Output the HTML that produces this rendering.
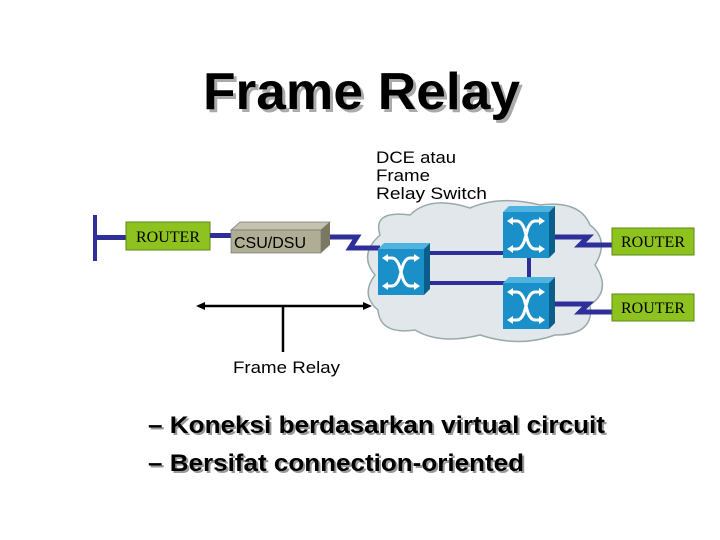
<!DOCTYPE html>
<html><head><meta charset="utf-8"><style>
body{margin:0;background:#fff;}
svg{display:block;font-family:"Liberation Sans",sans-serif;}
</style></head><body>
<svg width="720" height="540" viewBox="0 0 720 540">
<defs>
<g id="sw">
<polygon points="0,6 6,0 52,0 46,6" fill="#4fb3e0"/>
<polygon points="46,6 52,0 52,46 46,52" fill="#0a5f8a"/>
<rect x="0" y="6" width="46" height="46" fill="#1b8fc8"/>
<g stroke="#fff" stroke-width="3" fill="none">
<path d="M8,15 H14 Q18,15 21,22 L25,36 Q28,43 32,43 H38"/>
<path d="M8,43 H14 Q18,43 21,36 L25,22 Q28,15 32,15 H38"/>
</g>
<g fill="#fff">
<polygon points="4,15 10,11 10,19"/><polygon points="42,15 36,11 36,19"/>
<polygon points="4,43 10,39 10,47"/><polygon points="42,43 36,39 36,47"/>
</g>
</g>
</defs>
<text x="206" y="112" font-size="52" font-weight="bold" fill="#aaa" textLength="317" lengthAdjust="spacingAndGlyphs">Frame Relay</text>
<text x="203" y="109" font-size="52" font-weight="bold" fill="#000" textLength="317" lengthAdjust="spacingAndGlyphs">Frame Relay</text>
<g font-size="17" fill="#000"><text x="376" y="163" textLength="80" lengthAdjust="spacingAndGlyphs">DCE atau</text><text x="376" y="181" textLength="54" lengthAdjust="spacingAndGlyphs">Frame</text><text x="376" y="199" textLength="111" lengthAdjust="spacingAndGlyphs">Relay Switch</text></g>
<!-- cloud -->
<path d="M380,235 Q372,210 410,215 Q430,195 470,208 Q500,195 540,205 Q580,200 590,225 Q610,240 595,265 Q612,290 590,305 Q595,335 555,335 Q520,348 480,335 Q440,345 415,330 Q380,335 378,310 Q360,295 375,275 Q358,255 380,235 Z" fill="#e2e7ec" stroke="#9aa" stroke-width="1.5"/>
<!-- left side -->
<rect x="93" y="215" width="4" height="46" fill="#2f2f9a"/>
<rect x="95" y="235" width="32" height="5" fill="#2f2f9a"/>
<rect x="126" y="222" width="84" height="28" fill="#8ec21e" stroke="#5a8a10"/>
<text x="168" y="242" font-size="16" text-anchor="middle" font-family="Liberation Serif,serif">ROUTER</text>
<rect x="210" y="233" width="22" height="5" fill="#2f2f9a"/>
<polygon points="231,230 240,222 330,222 321,230" fill="#c4c2ae" stroke="#777" stroke-width=".7"/>
<polygon points="321,230 330,222 330,245 321,253" fill="#7a7860"/>
<rect x="231" y="230" width="90" height="23" fill="#b0ad95" stroke="#777" stroke-width=".7"/>
<text x="234" y="248" font-size="16" textLength="72" lengthAdjust="spacingAndGlyphs">CSU/DSU</text>
<path d="M330,237 H357 L350,248 H380" stroke="#2f2f9a" stroke-width="5" fill="none"/>
<!-- switch links -->
<rect x="430" y="251" width="75" height="4" fill="#2f2f9a"/>
<rect x="430" y="281" width="75" height="4" fill="#2f2f9a"/>
<rect x="527" y="258" width="4" height="22" fill="#2f2f9a"/>
<path d="M555,237 H588 L580,245 H613" stroke="#2f2f9a" stroke-width="5" fill="none"/>
<path d="M555,304 H588 L580,312 H613" stroke="#2f2f9a" stroke-width="5" fill="none"/>
<use href="#sw" x="378" y="243"/>
<use href="#sw" x="503" y="206"/>
<use href="#sw" x="503" y="277"/>
<rect x="612" y="228" width="82" height="27" fill="#8ec21e" stroke="#5a8a10"/>
<text x="653" y="247" font-size="16" text-anchor="middle" font-family="Liberation Serif,serif">ROUTER</text>
<rect x="612" y="294" width="82" height="27" fill="#8ec21e" stroke="#5a8a10"/>
<text x="653" y="313" font-size="16" text-anchor="middle" font-family="Liberation Serif,serif">ROUTER</text>
<!-- arrow -->
<line x1="200" y1="306" x2="367" y2="306" stroke="#000" stroke-width="2.5"/>
<polygon points="196,306 205,302 205,310" fill="#000"/>
<polygon points="372,306 363,302 363,310" fill="#000"/>
<line x1="283" y1="306" x2="283" y2="352" stroke="#000" stroke-width="2.5"/>
<text x="233" y="373" font-size="17" textLength="107" lengthAdjust="spacingAndGlyphs">Frame Relay</text>
<g font-size="24" font-weight="bold">
<text x="150" y="435" fill="#999" textLength="457" lengthAdjust="spacingAndGlyphs">– Koneksi berdasarkan virtual circuit</text>
<text x="148" y="433" fill="#000" textLength="457" lengthAdjust="spacingAndGlyphs">– Koneksi berdasarkan virtual circuit</text>
<text x="150" y="473" fill="#999" textLength="376" lengthAdjust="spacingAndGlyphs">– Bersifat connection-oriented</text>
<text x="148" y="471" fill="#000" textLength="376" lengthAdjust="spacingAndGlyphs">– Bersifat connection-oriented</text>
</g>
</svg>
</body></html>
